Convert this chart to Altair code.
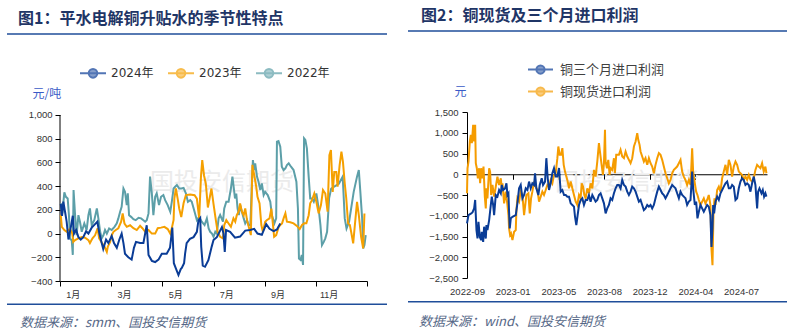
import altair as alt
import pandas as pd

# ---------------- Figure 1 data (month position: 0 = Jan 1, 12 = Dec 31) ----------------
series1 = ["2024年", "2023年", "2022年"]
colors1 = ["#0a3c96", "#f5a000", "#5c9fa8"]

m_2024 = [0.03, 0.08, 0.13, 0.20, 0.26, 0.33, 0.42, 0.50, 0.55, 0.63, 0.72, 0.81, 0.91, 1.02, 1.11, 1.24,
          1.37, 1.46, 1.54, 1.63, 1.69, 1.80, 1.89, 2.02, 2.11, 2.22, 2.32, 2.41, 2.48, 2.54, 2.67, 2.80,
          2.89, 2.97, 3.13, 3.26, 3.39, 3.46, 3.59, 3.72, 3.85, 3.98, 4.17, 4.30, 4.39, 4.45, 4.54, 4.63,
          4.72, 4.76, 4.85, 4.89, 4.95, 5.08, 5.22, 5.35, 5.41, 5.48, 5.52, 5.58, 5.67, 5.80, 5.93, 6.00,
          6.13, 6.33, 6.39, 6.44, 6.49, 6.65, 6.84, 7.04, 7.24, 7.43, 7.59, 7.72, 7.89, 8.06, 8.19, 8.35,
          8.48, 8.61]
v_2024 = [250, 150, 270, 180, 100, -50, 50, 150, 0, 30, -30, -50, -30, 20, 0, 50,
          80, 100, 0, -80, -130, -50, -80, -20, -80, -120, -50, 0, -80, -170, -200, -220,
          -120, -70, -80, -80, 70, -180, -230, -240, -220, -170, -170, -120, 50, -250, -300, -350,
          -300, -290, -250, -170, -80, -45, -30, 15, 110, 130, -110, -270, -280, -225, -110, -55,
          -30, 55, 0, -155, 30, 15, -35, -25, 25, 30, 40, 0, -10, 80, 40, 20,
          35, 85]

m_2023 = [0.03, 0.07, 0.17, 0.26, 0.39, 0.48, 0.52, 0.59, 0.72, 0.85, 0.98, 1.11, 1.17, 1.27, 1.37, 1.47,
          1.53, 1.63, 1.74, 1.83, 1.87, 1.96, 2.02, 2.09, 2.18, 2.28, 2.39, 2.45, 2.52, 2.61, 2.74, 2.87,
          3.00, 3.13, 3.22, 3.33, 3.46, 3.59, 3.72, 3.82, 3.95, 4.08, 4.21, 4.31, 4.37, 4.44, 4.47, 4.53,
          4.61, 4.66, 4.74, 4.83, 4.92, 5.09, 5.26, 5.35, 5.44, 5.51, 5.56, 5.63, 5.70, 5.78, 5.85, 5.92,
          6.00, 6.08, 6.16, 6.26, 6.37, 6.42, 6.50, 6.59, 6.68, 6.78, 6.85, 6.91, 6.98, 7.04, 7.11, 7.18,
          7.24, 7.31, 7.41, 7.46, 7.52, 7.59, 7.67, 7.72, 7.80, 7.87, 7.93, 8.02, 8.08, 8.19, 8.26, 8.30,
          8.37, 8.45, 8.55, 8.61, 8.68, 8.74, 8.81, 8.87, 9.00, 9.13, 9.26, 9.37, 9.46, 9.55, 9.63, 9.72,
          9.78, 9.85, 9.94, 10.02, 10.11, 10.20, 10.28, 10.37, 10.46, 10.53, 10.59, 10.66, 10.72, 10.80,
          10.85, 10.93, 11.00, 11.06, 11.13, 11.19, 11.26, 11.33, 11.38, 11.46, 11.55, 11.61, 11.68, 11.77,
          11.85, 11.90]
v_2023 = [155, 57, 30, 15, 40, 0, -70, -55, -40, -30, -35, -55, -80, -40, -15, 45,
          -40, -75, -110, -155, -110, -70, -15, 15, 30, 45, 100, 170, 85, 57, 70, 45,
          30, 65, 45, 15, 30, 0, 0, 45, 50, 57, 38, 0, 45, 115, 295, 380,
          280, 210, 140, 255, 325, 330, 323, 295, 128, 480, 620, 490, 420, 220, 300, 380,
          250, 130, 15, -27, -40, 72, 113, 85, 57, 128, 100, 155, 185, 255, 185, 155,
          212, 113, 30, -13, 580, 495, 395, 310, 255, 72, 15, 100, 113, 128, 210, 128,
          -27, -13, 57, 72, 86, 128, 170, 100, 95, 86, 65, 38, 72, 86, 86, 155,
          255, 282, 338, 268, 170, 240, 367, 338, 185, 662, 704, 352, 520, 520,
          395, 578, 690, 605, 423, 296, 86, 72, 15, -83, 128, 268, 155, -27,
          -125, 170]

m_2022 = [0.04, 0.09, 0.17, 0.23, 0.30, 0.35, 0.39, 0.46, 0.50, 0.53, 0.59, 0.65, 0.72, 0.78, 0.85, 0.95,
          1.04, 1.11, 1.17, 1.24, 1.34, 1.44, 1.50, 1.57, 1.63, 1.70, 1.76, 1.83, 1.92, 2.02, 2.13, 2.22,
          2.28, 2.35, 2.41, 2.48, 2.54, 2.61, 2.65, 2.70, 2.78, 2.87, 2.96, 3.07, 3.17, 3.26, 3.33, 3.39,
          3.46, 3.52, 3.59, 3.65, 3.72, 3.78, 3.87, 3.95, 4.04, 4.11, 4.21, 4.31, 4.37, 4.44, 4.50, 4.57,
          4.66, 4.74, 4.83, 4.92, 5.00, 5.09, 5.15, 5.26, 5.35, 5.44, 5.54, 5.65, 5.74, 5.81, 5.87, 5.94,
          6.00, 6.07, 6.13, 6.20, 6.26, 6.37, 6.42, 6.50, 6.59, 6.68, 6.74, 6.78, 6.84, 6.89, 6.94, 6.99,
          7.04, 7.11, 7.18, 7.24, 7.31, 7.37, 7.44, 7.50, 7.54, 7.59, 7.63, 7.70, 7.76, 7.83, 7.89, 7.96,
          8.02, 8.12, 8.22, 8.28, 8.38, 8.45, 8.48, 8.54, 8.61, 8.67, 8.74, 8.81, 8.87, 8.94, 9.03, 9.13,
          9.24, 9.30, 9.34, 9.40, 9.45, 9.50, 9.54, 9.59, 9.65, 9.72, 9.78, 9.85, 9.92, 10.02, 10.11, 10.18,
          10.24, 10.31, 10.37, 10.44, 10.52, 10.60, 10.75, 10.90, 11.05, 11.13, 11.20, 11.30, 11.48, 11.61,
          11.68, 11.74, 11.81, 11.85, 11.90, 11.95]
v_2022 = [255, 170, 347, 310, 296, 155, -40, -60, -180, 367, 155, -13, 155, 100, 15, 86,
          30, 155, 212, 72, 113, 212, 128, 15, -40, -13, 30, 0, 43, 30, 57, 86,
          128, 184, 226, 380, 353, 240, 339, 155, 141, 122, 113, 133, 128, 113, 100, 113,
          170, 480, 339, 156, 310, 339, 240, 310, 325, 282, 240, 184, 268, 380, 395, 410,
          380, 380, 385, 339, 268, 282, 268, 184, 113, 141, 100, 72, 128, 43, 15, 0,
          -27, 15, 0, 128, 156, 100, 212, 268, 268, 380, 480, 409, 296, 338, 212, 156,
          240, 184, 128, 86, 113, 72, 72, 409, 620, 535, 592, 480, 437, 367, 423, 325,
          352, 325, 268, 156, 86, 128, 775, 780, 732, 564, 536, 550, 578, 592, 564, 536,
          437, 212, -210, -222, -180, -265, 803, 790, 718, 480, 296, 296, 268, 338, 212, 72,
          -97, -70, -40, 15, 300, 380, 400, 420, 480, 128, 43, 100, 352, 480,
          536, 352, 128, -125, -97, -13]

month_ticks = [0, 2, 4, 6, 8, 10, 12]
month_labels = ["1月", "3月", "5月", "7月", "9月", "11月", ""]

# ---------------- Figure 2 data (trading-day index from 2022-09) ----------------
series2 = ["铜三个月进口利润", "铜现货进口利润"]
colors2 = ["#0a3c96", "#f59c00"]

t_3m = [0, 2.6, 6.7, 9.6, 12.5, 14.3, 15.4, 16.6, 18.4, 20.1, 22.4, 24.8, 25.9, 28.3, 30.0, 32.9, 34.1,
        35.8, 38.8, 41.7, 43.4, 45.8, 47.5, 50.4, 53.3, 56.2, 59.2, 60.9, 63.2, 66.7, 69.1, 70.8, 72.6,
        73.7, 74.9, 76.7, 79.6, 85.4, 88.3, 91.2, 94.1, 97.1, 100, 102.9, 105.8, 108.7, 111.6, 114.5,
        117.5, 119.2, 121.5, 125, 127.4, 130.9, 133.2, 136.7, 139, 141.4, 143.7, 146.6, 149.5, 152.4,
        155.3, 158.3, 161.2, 164.1, 167, 170, 172.9, 175.8, 178.7, 181.6, 184.5, 187.4, 189.2, 191.5,
        193.8, 196.2, 199.1, 202, 204.9, 207.8, 210.7, 213.6, 216.5, 219.5, 222.4, 225.3, 228.2, 231.1,
        234, 237, 239.9, 242.8, 245.7, 248.6, 251.5, 254.4, 257.4, 260.3, 263.2,
        266.1, 269.0, 271.9, 274.9, 277.8, 280.7, 283.6, 286.5, 289.4, 292.4, 295.3, 298.2, 301.1, 304,
        306.9, 309.8, 312.7, 315.7, 318.6, 321.5, 324.4, 327.3, 330.2, 333.2, 336.1, 339, 341.9, 344.8,
        347.7, 350.7, 353.6, 356.5, 359.4, 362.3, 365.2, 368.1, 371.1, 374, 376.9, 379.8, 382.7, 385.6,
        388.6, 391.5, 394.4, 396.1, 399.1, 401.4, 403.7, 406.1, 409, 411.9, 414.8, 417.7, 420.6, 423.5,
        426.4, 428.2, 430, 431.2, 432.9, 435.3, 438.2, 441.1, 444, 446.9, 449.8, 452.8, 455.7, 458.6,
        461.5, 464.4, 467.3, 470.3, 473.2, 476.1, 479, 481.9, 484.8, 487.7, 490.7, 493.6, 496.5, 499.4,
        502.3, 505.2, 508.2, 509.9, 512.3, 515.8, 518.1, 520.4, 522.7, 524.5]
v_3m = [-1185, -983, -950, -920, -822, -620, -983, -1346, -1548, -1145, -1510, -1588, -1386, -1628, -1265,
        -1548, -1225, -1346, -1104, -741, -540, -741, -983, -500, -540, -379, -459, -258, -379, -339, -218,
        -500, -459, -903, -1306, -1064, -1024, -983, -701, -339, -258, -580, -500, -339, -379, -177, -339,
        -218, -258, 24, -339, -500, -258, -97, -258, -177, 387, -97, -379, -218, 24, 145, -56, -56, 150,
        -419, -379, -500, -500, -540, -540, -701, -741, -781, -1024, -1225, -983, -741, -620, -580, -741,
        -620, -620, -500, -660, -500, -580, -660, -620, -500, -459, -580, -701, -943, -822, -741, -580,
        -620, -459, -339, -258,
        -258, -339, -137, -258, -298, -419, -500, -419, -298, -339, -419, -540, -660, -620, -741, -862,
        -822, -741, -781, -741, -822, -741, -580, -419, -298, -379, -459, -500, -580, -500, -419, -339,
        -258, -298, -339, -459, -580, -419, -500, -540, -580, -741, -660, -620, 64, -339, -741, -660,
        -1064, -903, -741, -822, -903, -822, -741, -781, -983, -1750, -1306, -741, -943, -660, -540, -620,
        -459, -379, -298, -218, -177, -339, -339, -258, -298, -620, -580, -339, -177, -97, -137, -258,
        -218, -258, -419, -218, -56, -258, -822, -419, -339, -459, -379, -540, -459, -540]

t_spot = [0, 0.9, 2.6, 5, 6.7, 8.5, 10.8, 12.5, 14.3, 15.4, 17.2, 19, 21.3, 23, 24.8, 27.1, 28.9, 31.2,
          32.9, 34.1, 35.8, 38.8, 40.5, 42.3, 44.6, 47.5, 50.4, 53.3, 56.2, 59.2, 60.9, 62.1, 65, 67.9,
          70.8, 72.6, 73.7, 75.5, 77.2, 79.6, 82.5, 85.4, 86.6, 88.3, 91.2, 94.1, 97.1, 100, 101.7, 104,
          107.5, 109.9, 112.2, 114.5, 117.5, 120.4, 123.3, 126.2, 129.1, 132, 134.9, 137.9, 140.8, 143.7,
          146.6, 149.5, 152.4, 155.3, 158.3, 160, 162.3, 164.7, 167, 169.4, 171.7, 174, 176.4, 178.7,
          181.6, 184.5, 187.4, 190.4, 193.3, 196.2, 199.1, 200.9, 203.2, 205.5, 207.8, 210.7, 213.6,
          216.5, 219.5, 222.4, 225.3, 228.2, 231.1, 232.9, 235.8, 238.1, 239.9, 241.7, 242.8, 245.2,
          247.5, 249.8, 251.5, 254.4, 257.4, 259.1, 261.4,
          266.1, 269.0, 271.9, 274.9, 277.8, 280.7, 283.6, 286.5, 289.4, 292.4, 295.3, 298.2, 300, 302.3,
          304, 306.9, 309.8, 312.7, 315.7, 318.6, 321.5, 324.4, 327.3, 330.2, 333.2, 336.1, 339, 341.9,
          344.8, 347.7, 350.7, 353.6, 356.5, 359.4, 362.3, 365.2, 368.1, 371.1, 374, 376.9, 379.8, 382.7,
          385.6, 388.6, 391.5, 394.4, 396.1, 399.1, 401.4, 403.7, 406.1, 409, 411.9, 414.8, 417.7, 420.6,
          423.5, 426.4, 428.2, 430, 431.7, 433.5, 435.3, 438.2, 441.1, 444, 446.9, 449.8, 452.8, 455.7,
          458.6, 461.5, 464.4, 467.3, 470.3, 473.2, 476.1, 479, 481.9, 484.8, 487.7, 490.7, 493.6, 496.5,
          499.4, 502.3, 505.2, 508.2, 511.1, 514, 516.9, 519.8, 522.7, 524.5]
v_spot = [-459, 145, 306, 790, 951, 750, 1193, 790, 1193, 266, 145, -97, 145, -218, 145, -97, 185, -540,
          -822, -339, -580, 145, 64, -500, -258, -540, -298, -56, -258, -97, -339, -218, -701, -419,
          -741, -983, -1306, -1467, -1427, -1588, -1386, -1346, -862, -580, -660, -419, -500, -983, -781, -500,
          -459, -943, -580, -419, -177, -298, -379, -660, -540, -419, -500, -379, -258, -298,
          -137, -218, -16, 24, 387, 669, 467, 467, 628, 226, 64, -56, -177, -339,
          -177, -339, -500, -660, -741, -500, -580, -218, -298, -500, -580, -339, -459,
          -218, -339, 105, -56, 306, 750, 548, 226, -16, 266, 1072, 306, 145,
          347, -16, 145, 105, 387, 24, 467,
          467, 588, 427, 387, 548, 427, 347, 266, 387, 669, 790, 991, 830, 709,
          548, 427, 306, 387, 226, 387, 266, 185, 24, 226, 387, 508, 467, 347,
          185, 24, -97, -218, -137, 24, 105, 145, 185, 266, 347, 64, -56, -137,
          -258, -137, -258, 628, 64, -218, -419, -500, -620, -741, -660, -580, -701, -620,
          -500, -741, -1790, -2190, -983, -580, -741, -379, -298, -419, -97, 64, 226, -16,
          347, 226, -56, 185, 306, 226, 64, 24, -16, -137, -56, -137, -16, -137,
          -177, -97, 105, 226, 185, 145, 266, 64, 185, 24]

date_ticks = [0, 80, 160, 240, 320, 400, 480]
date_labels = ["2022-09", "2023-01", "2023-05", "2023-08", "2023-12", "2024-04", "2024-07"]

# ---------------- helpers ----------------
NUM_FONT = "Liberation Sans, Noto Sans CJK SC"
CJK_FONT = "Noto Sans CJK SC"
SYMBOL = "M-1,0L1,0M0.33,0A0.33,0.33,0,1,1,-0.33,0A0.33,0.33,0,1,1,0.33,0Z"


def label_expr(vals, labels):
    expr = "''"
    for v, l in reversed(list(zip(vals, labels))):
        expr = f"datum.value == {v} ? '{l}' : ({expr})"
    return expr


def frame(series_names, xs_list, vs_list, xname):
    parts = []
    for s, xs, vs in zip(series_names, xs_list, vs_list):
        parts.append(pd.DataFrame({xname: xs, "v": vs, "series": s}))
    return pd.concat(parts, ignore_index=True)


one = pd.DataFrame({"k": [0]})


def deco_text(txt, x, y, size, color, weight="normal", style="normal", font=CJK_FONT, align="left"):
    return alt.Chart(one).mark_text(
        text=txt, align=align, baseline="middle", fontSize=size, fontWeight=weight,
        fontStyle=style, font=font, color=color
    ).encode(x=alt.value(x), y=alt.value(y))


def deco_rule(x1, x2, y, color="#1f4e9a", width=1.5):
    return alt.Chart(one).mark_rule(color=color, strokeWidth=width).encode(
        x=alt.value(x1), x2=alt.value(x2), y=alt.value(y))


def marker(x, top, bottom):
    return alt.Chart(one).mark_rule(opacity=0, strokeWidth=1).encode(
        x=alt.value(x), y=alt.value(top), y2=alt.value(bottom))


# ---------------- Figure 1 ----------------
W1, H1 = 307, 169
df1 = frame(series1, [m_2024, m_2023, m_2022], [v_2024, v_2023, v_2022], "m")
leg1_df = pd.DataFrame({"series": series1, "m": [None] * 3, "v": [None] * 3})

scale1 = alt.Scale(domain=series1, range=colors1)
legend1 = alt.Legend(title=None, orient="none", direction="horizontal", columns=3,
                     legendX=19, legendY=-53, symbolType=SYMBOL, symbolSize=676,
                     symbolStrokeWidth=2, labelFont="DejaVu Sans, Noto Sans CJK SC",
                     labelFontSize=12, labelColor="#333333", labelOffset=4,
                     columnPadding=10, padding=0)

y1_scale = alt.Scale(domain=[-400, 1025.3], nice=False, zero=False)
y1_axis = alt.Axis(values=list(range(-400, 1001, 200)), format=",.0f", title="元/吨",
                   titleAngle=0, titleAlign="left", titleBaseline="middle",
                   titleX=-28, titleY=-19, titleColor="#3a5bc7", titleFontSize=12,
                   titleFontWeight="normal", titleFont=CJK_FONT, domain=False,
                   tickColor="#000000", tickSize=5, labelPadding=3, labelFontSize=9.5,
                   labelFont=NUM_FONT, labelColor="#333333", grid=False,
                   labelOverlap=False, labelFlush=False)

x1 = alt.X("m:Q", scale=alt.Scale(domain=[0, 12], nice=False, zero=False),
           axis=alt.Axis(values=month_ticks, labelExpr=label_expr(month_ticks, month_labels),
                         title=None, grid=False, domainColor="#000000", tickColor="#000000",
                         tickSize=5, labelFontSize=9, labelFont=NUM_FONT, labelColor="#333333",
                         labelOffset=12.8, labelPadding=4, labelFlush=False, labelOverlap=False))
y1 = alt.Y("v:Q", scale=y1_scale, axis=y1_axis)

base1 = alt.Chart(df1)
lines1 = []
for s in ["2022年", "2023年", "2024年"]:
    lines1.append(base1.transform_filter(alt.datum.series == s).mark_line(strokeWidth=2).encode(
        x=x1, y=y1, stroke=alt.Stroke("series:N", scale=scale1, legend=legend1)))

legend_pts1 = alt.Chart(leg1_df).mark_point(filled=True).encode(
    x=x1, y=y1,
    fill=alt.Fill("series:N", scale=scale1, legend=legend1),
    stroke=alt.Stroke("series:N", scale=scale1, legend=legend1))

yaxis_line1 = alt.Chart(one).mark_rule(color="#000000", strokeWidth=1).encode(
    x=alt.value(0),
    y=alt.YDatum(-400, type="quantitative", scale=y1_scale, axis=y1_axis),
    y2=alt.Y2Datum(1000))

left = alt.layer(
    marker(-59.5, -111.5, 220.5),
    deco_text("国投安信期货", 90, 71, 24, "#ebebeb"),
    yaxis_line1,
    *lines1,
    legend_pts1,
    deco_text("图1：平水电解铜升贴水的季节性特点", -42, -93.5, 16, "#1f3566", weight="bold"),
    deco_rule(-53, 327, -78),
    deco_rule(-53, 327, 192.3),
    deco_text("数据来源：smm、国投安信期货", -40, 211, 13, "#566887", style="italic"),
).properties(width=W1, height=H1)

# ---------------- Figure 2 ----------------
W2, H2 = 300, 166
df2 = frame(series2, [t_3m, t_spot], [v_3m, v_spot], "t")
leg2_df = pd.DataFrame({"series": series2, "t": [None] * 2, "v": [None] * 2})

scale2 = alt.Scale(domain=series2, range=colors2)
legend2 = alt.Legend(title=None, orient="none", direction="vertical",
                     legendX=60, legendY=-56, symbolType=SYMBOL, symbolSize=625,
                     symbolStrokeWidth=2, labelFont=CJK_FONT, labelFontSize=13,
                     labelColor="#404040", labelOffset=6, rowPadding=0, padding=0)

x2 = alt.X("t:Q", scale=alt.Scale(domain=[0, 525.5], nice=False, zero=False),
           axis=alt.Axis(values=date_ticks, labelExpr=label_expr(date_ticks, date_labels),
                         title=None, grid=False, offset=-103.75, domainColor="#000000",
                         tickColor="#000000", tickSize=5, labelPadding=107, labelFontSize=9.5,
                         labelFont=NUM_FONT, labelColor="#333333", labelFlush=False,
                         labelOverlap=False))
y2 = alt.Y("v:Q", scale=alt.Scale(domain=[-2500, 1500], nice=False, zero=False),
           axis=alt.Axis(values=list(range(-2500, 1501, 500)), format=",.0f", title="元",
                         titleAngle=0, titleAlign="left", titleBaseline="middle",
                         titleX=-13, titleY=-21, titleColor="#3a5bc7", titleFontSize=12,
                         titleFontWeight="normal", titleFont=CJK_FONT, domainColor="#000000",
                         tickColor="#000000", tickSize=5, labelPadding=4, labelFontSize=9.5,
                         labelFont=NUM_FONT, labelColor="#333333", grid=False,
                         labelOverlap=False, labelFlush=False))

base2 = alt.Chart(df2)
lines2 = []
for s in ["铜现货进口利润", "铜三个月进口利润"]:
    lines2.append(base2.transform_filter(alt.datum.series == s).mark_line(strokeWidth=2).encode(
        x=x2, y=y2, stroke=alt.Stroke("series:N", scale=scale2, legend=legend2)))

legend_pts2 = alt.Chart(leg2_df).mark_point(filled=True).encode(
    x=x2, y=y2,
    fill=alt.Fill("series:N", scale=scale2, legend=legend2),
    stroke=alt.Stroke("series:N", scale=scale2, legend=legend2))

right = alt.layer(
    marker(323.5, -111.5, 220.5),
    deco_text("国投安信期货", 88, 71, 24, "#ebebeb"),
    *lines2,
    legend_pts2,
    deco_text("图2：铜现货及三个月进口利润", -46, -96, 16, "#1f3566", weight="bold"),
    deco_rule(-59, 320, -81),
    deco_rule(-59, 320, 189.7),
    deco_text("数据来源：wind、国投安信期货", -48, 210.3, 13, "#566887", style="italic"),
).properties(width=W2, height=H2)

chart = alt.hconcat(left, right, spacing=100, bounds="flush").resolve_scale(
    stroke="independent", fill="independent"
).resolve_legend(
    stroke="independent", fill="independent"
).properties(
    padding=0, background="white"
).configure_view(stroke=None)

chart.save("out.html", embed_options={"renderer": "svg", "actions": False})
